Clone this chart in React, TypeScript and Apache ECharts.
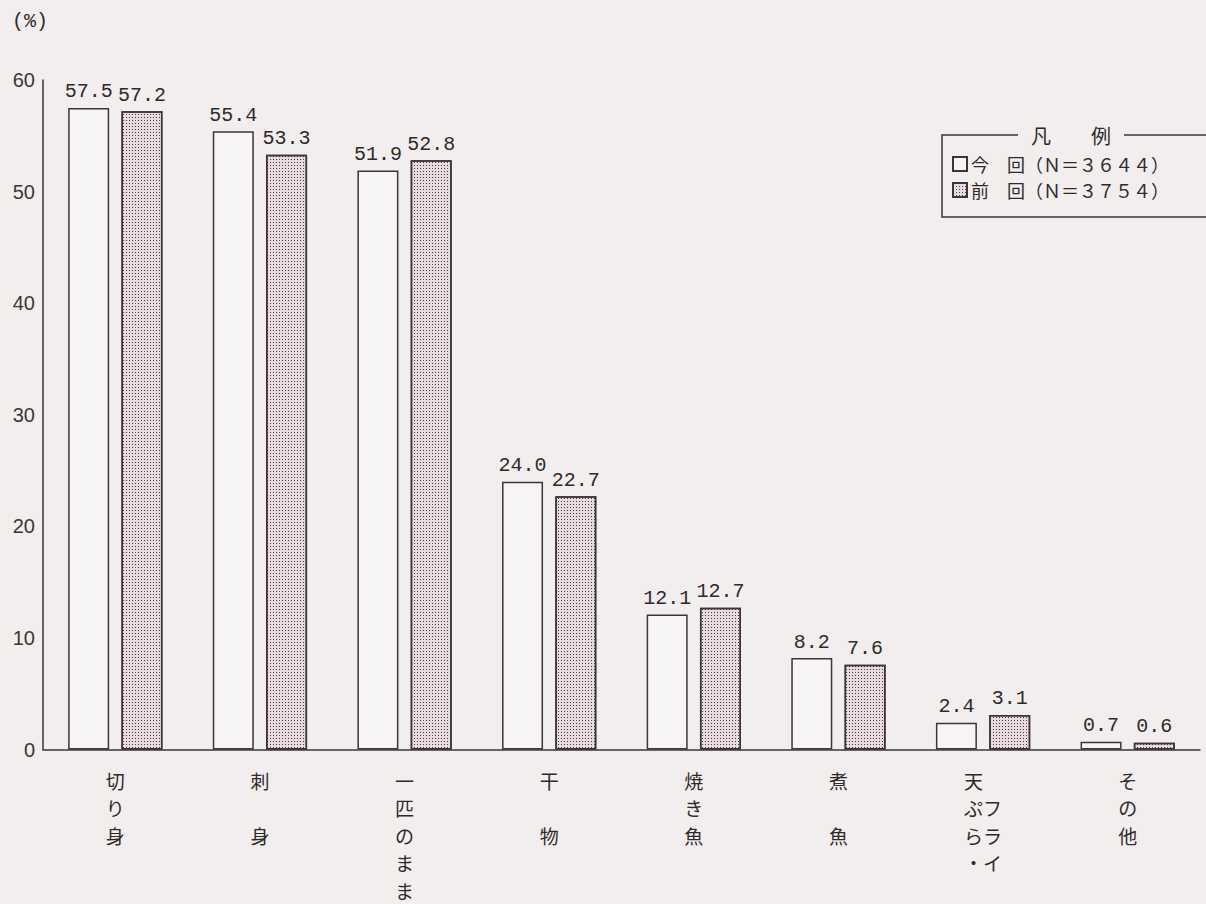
import React, { useEffect, useRef } from "react";
import * as echarts from "echarts";

const categories = ["切り身", "刺身", "一匹のまま", "干物", "焼き魚", "煮魚", "天ぷら・フライ", "その他"];
const tickLabels = [
  "切\nり\n身",
  "刺\n\n身",
  "一\n匹\nの\nま\nま",
  "干\n\n物",
  "焼\nき\n魚",
  "煮\n\n魚",
  "天　\nぷフ\nらラ\n・イ",
  "そ\nの\n他",
];
const currentValues = [57.5, 55.4, 51.9, 24.0, 12.1, 8.2, 2.4, 0.7];
const previousValues = [57.2, 53.3, 52.8, 22.7, 12.7, 7.6, 3.1, 0.6];
const seriesNames = ["今回", "前回"];
const sampleSizes = [3644, 3754];
const yMin = 0;
const yMax = 60;
const yStep = 10;

const toFullWidth = (s: string) =>
  s.replace(/[0-9]/g, (c) => String.fromCharCode(c.charCodeAt(0) + 0xfee0));

const BG = "#f2eeed";
const INK = "#3a3538";

export default function App() {
  const ref = useRef<HTMLDivElement>(null);
  useEffect(() => {
    if (!ref.current) return;
    const chart = echarts.init(ref.current, null, { renderer: "svg" });
    const labelCfg = {
      show: true,
      position: "top" as const,
      distance: 6,
      fontFamily: "Liberation Mono",
      fontSize: 20,
      color: "#2e2a2c",
      formatter: (p: any) => Number(p.value).toFixed(1),
    };
    chart.setOption({
      animation: false,
      backgroundColor: BG,
      grid: { left: 43, right: 6, top: 80, bottom: 147 },
      legend: {
        orient: "vertical",
        left: 952,
        top: 155,
        padding: 0,
        itemGap: 8,
        itemWidth: 14,
        itemHeight: 14,
        icon: "rect",
        selectedMode: false,
        data: seriesNames,
        formatter: (name: string) => {
          const i = seriesNames.indexOf(name);
          const label = name.split("").join("　");
          return `${label}（Ｎ＝${toFullWidth(String(sampleSizes[i]))}）`;
        },
        textStyle: {
          fontFamily: "Noto Sans CJK JP",
          fontSize: 18,
          lineHeight: 18,
          color: "#2e2a2c",
          padding: [0, 0, 0, -1],
        },
      },
      xAxis: {
        type: "category",
        data: categories,
        axisLine: { show: true, lineStyle: { color: INK, width: 1.5 } },
        axisTick: { show: false },
        axisLabel: {
          interval: 0,
          margin: 17,
          fontFamily: "Noto Sans CJK JP",
          fontSize: 19,
          lineHeight: 27.5,
          color: "#2e2a2c",
          verticalAlign: "top",
          formatter: (_v: string, idx: number) => tickLabels[idx],
        },
      },
      yAxis: {
        type: "value",
        min: yMin,
        max: yMax,
        interval: yStep,
        axisLine: { show: true, lineStyle: { color: INK, width: 1.5 } },
        axisTick: { show: false },
        splitLine: { show: false },
        axisLabel: {
          margin: 8,
          fontFamily: "Liberation Sans Narrow, Liberation Sans",
          fontSize: 20,
          color: "#3a3638",
        },
      },
      series: [
        {
          name: seriesNames[0],
          type: "bar",
          data: currentValues,
          barWidth: 41,
          barGap: "30%",
          itemStyle: { color: "#f7f4f4", borderColor: INK, borderWidth: 1.5 },
          label: labelCfg,
        },
        {
          name: seriesNames[1],
          type: "bar",
          data: previousValues,
          barWidth: 41,
          itemStyle: {
            color: "#e8dae0",
            borderColor: INK,
            borderWidth: 1.5,
            decal: {
              symbol: "rect",
              symbolSize: 1,
              dashArrayX: [1, 2],
              dashArrayY: [1, 2],
              color: "#4a3a44",
            },
          },
          label: labelCfg,
        },
      ],
      graphic: [
        {
          type: "text",
          left: 12,
          top: 11,
          style: { text: "(%)", fontFamily: "Liberation Mono", fontSize: 20, fill: "#2e2a2c" },
        },
        {
          type: "polyline",
          shape: { points: [[1018, 135], [942, 135], [942, 217], [1230, 217]] },
          style: { stroke: INK, lineWidth: 1.5, fill: null },
        },
        {
          type: "line",
          shape: { x1: 1124, y1: 135, x2: 1230, y2: 135 },
          style: { stroke: INK, lineWidth: 1.5 },
        },
        {
          type: "text",
          x: 1071,
          y: 135,
          style: {
            text: "凡　　例",
            fontFamily: "Noto Sans CJK JP",
            fontSize: 20,
            fill: "#2e2a2c",
            align: "center",
            verticalAlign: "middle",
          },
        },
      ],
    });
    return () => chart.dispose();
  }, []);
  return (
    <div
      ref={ref}
      style={{ position: "fixed", left: 0, top: 0, width: 1206, height: 904, background: BG }}
    />
  );
}
